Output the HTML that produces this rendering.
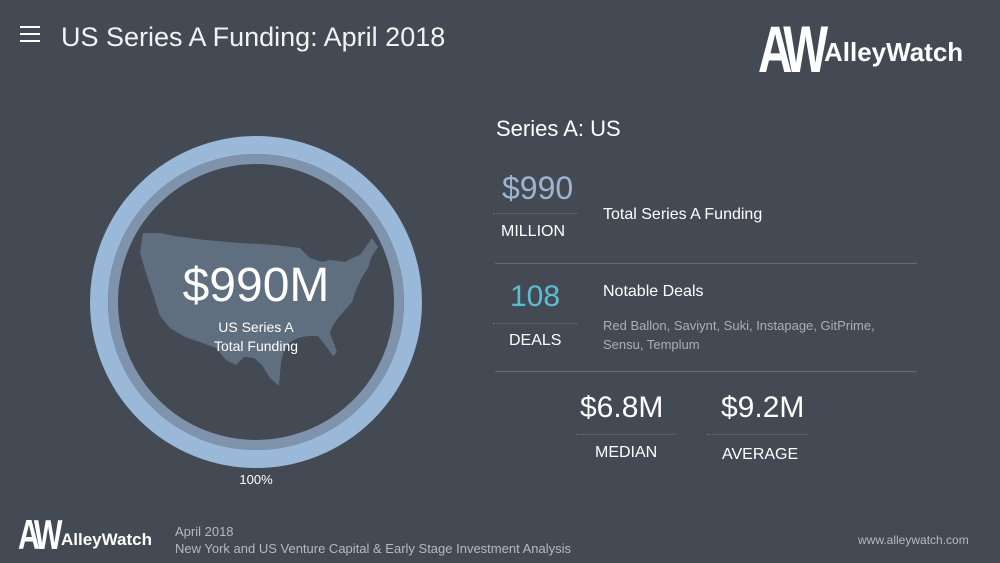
<!DOCTYPE html>
<html><head><meta charset="utf-8"><style>
body{margin:0;width:1000px;height:563px;background:#434a54;font-family:"Liberation Sans",sans-serif;color:#fff;position:relative;overflow:hidden}
.a{position:absolute;white-space:nowrap}
.dot{position:absolute;border-top:1px dotted #6c7682;height:0}
.hr{position:absolute;height:1px;background:#626b76}
</style></head><body>
<div class="a" style="left:20px;top:26px;width:20px;height:2px;background:#fff;box-shadow:0 7px 0 #fff,0 14px 0 #fff"></div>
<div class="a" style="left:61px;top:22px;font-size:27px;color:#f2f2f2">US Series A Funding: April 2018</div>
<div class="a" style="left:758px;top:16px;font-weight:bold;font-size:66px;letter-spacing:-9px;line-height:66px;transform:scaleX(0.72);transform-origin:left">AW</div>
<div class="a" style="left:824px;top:37px;font-weight:bold;font-size:26px">AlleyWatch</div>

<svg class="a" style="left:0;top:0" width="1000" height="563">
<circle cx="256" cy="302" r="157" fill="none" stroke="#9ab8d8" stroke-width="18"/>
<circle cx="256" cy="302" r="143" fill="none" stroke="#7f93ad" stroke-width="10"/>
<path d="M143 233 L160 233 L175 236 L205 240 L240 243 L275 245 L300 248 L310 258 L322 262 L330 260 L345 262 L352 258 L360 255 L368 244 L372 238 L378 247 L372 256 L368 268 L362 277 L356 290 L352 302 L345 310 L338 318 L333 325 L330 333 L337 352 L333 356 L325 345 L318 336 L308 336 L298 338 L290 342 L284 350 L281 362 L279 386 L270 378 L262 365 L254 358 L244 357 L236 365 L226 360 L216 348 L200 342 L185 337 L170 328 L160 316 L155 300 L150 285 L145 270 L140 252 Z" fill="#5f6f80"/>
</svg>
<div class="a" style="left:0;width:512px;text-align:center;top:258px;font-size:48px">$990M</div>
<div class="a" style="left:0;width:512px;text-align:center;top:318px;font-size:14px;line-height:19px">US Series A<br>Total Funding</div>
<div class="a" style="left:0;width:512px;text-align:center;top:472px;font-size:13px">100%</div>

<div class="a" style="left:496px;top:116px;font-size:22px">Series A: US</div>
<div class="a" style="left:502px;top:170px;font-size:32px;color:#9db3cf">$990</div>
<div class="dot" style="left:493px;top:213px;width:84px"></div>
<div class="a" style="left:501px;top:223px;font-size:16px">MILLION</div>
<div class="a" style="left:603px;top:206px;font-size:16px">Total Series A Funding</div>
<div class="hr" style="left:495px;top:263px;width:422px"></div>
<div class="a" style="left:510px;top:280px;font-size:30px;color:#5bbdd4">108</div>
<div class="dot" style="left:493px;top:323px;width:84px"></div>
<div class="a" style="left:509px;top:332px;font-size:16px">DEALS</div>
<div class="a" style="left:603px;top:283px;font-size:16px">Notable Deals</div>
<div class="a" style="left:603px;top:316px;font-size:13px;line-height:19px;color:#a9afb6">Red Ballon, Saviynt, Suki, Instapage, GitPrime,<br>Sensu, Templum</div>
<div class="hr" style="left:495px;top:371px;width:422px"></div>
<div class="a" style="left:580px;top:391px;font-size:30px">$6.8M</div>
<div class="a" style="left:721px;top:391px;font-size:30px">$9.2M</div>
<div class="dot" style="left:576px;top:434px;width:100px"></div>
<div class="dot" style="left:707px;top:434px;width:100px"></div>
<div class="a" style="left:595px;top:444px;font-size:16px">MEDIAN</div>
<div class="a" style="left:722px;top:446px;font-size:16px">AVERAGE</div>

<div class="a" style="left:18px;top:514px;font-weight:bold;font-size:42px;letter-spacing:-6px;line-height:42px;transform:scaleX(0.72);transform-origin:left">AW</div>
<div class="a" style="left:61px;top:530px;font-weight:bold;font-size:17px">AlleyWatch</div>
<div class="a" style="left:175px;top:523px;font-size:13px;line-height:17px;color:#b4bac1">April 2018<br>New York and US Venture Capital &amp; Early Stage Investment Analysis</div>
<div class="a" style="left:858px;top:533px;font-size:12px;color:#b4bac1">www.alleywatch.com</div>
</body></html>
